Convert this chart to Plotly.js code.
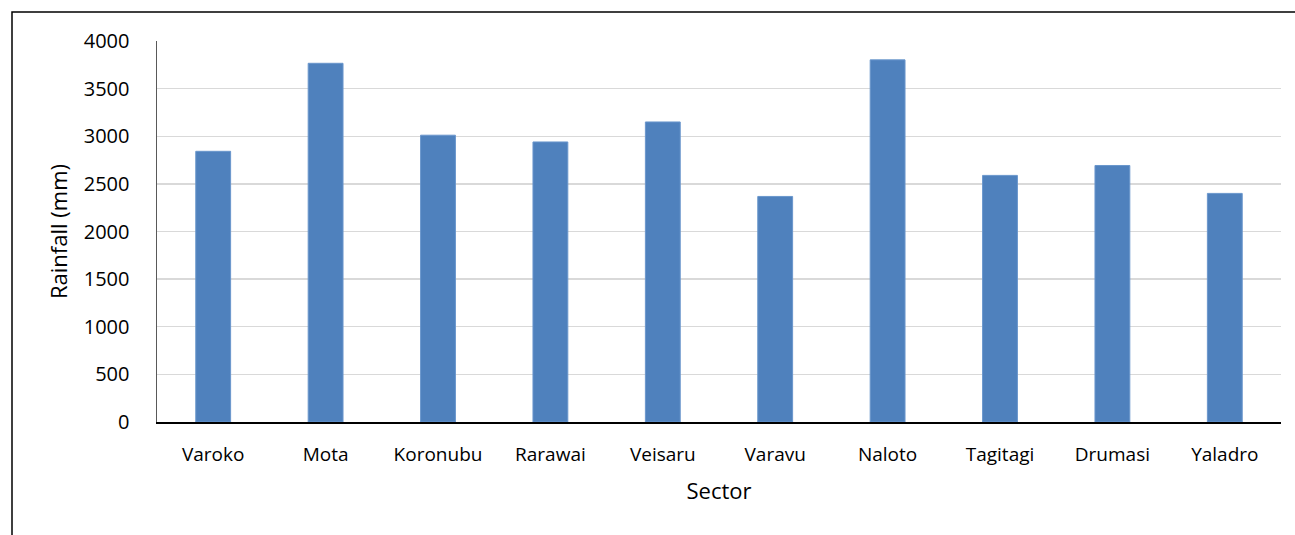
<!DOCTYPE html>
<html>
<head>
<meta charset="utf-8">
<script src="https://cdn.plot.ly/plotly-3.0.1.min.js"></script>
<style>
html,body{margin:0;padding:0;background:#fff;}
#chart{width:1295px;height:535px;}
</style>
</head>
<body>
<div id="chart"></div>
<script>
const sectors = ["Varoko","Mota","Koronubu","Rarawai","Veisaru","Varavu","Naloto","Tagitagi","Drumasi","Yaladro"];
const rainfall = [2842,3766,3011,2940,3150,2368,3802,2589,2693,2400];
const yTicks = [0,500,1000,1500,2000,2500,3000,3500,4000];

const fontFam = "Open Sans, Noto Sans, sans-serif";

const trace = {
  type: "bar",
  x: sectors,
  y: rainfall,
  marker: {color: "#4f81bd", line: {color: "#6a96cc", width: 1}},
  hoverinfo: "x+y"
};

const L = 157, R = 14, T = 41, B = 113;
const W = 1295 - L - R, H = 535 - T - B;

const layout = {
  width: 1295,
  height: 535,
  margin: {l: L, r: R, t: T, b: B},
  paper_bgcolor: "#ffffff",
  plot_bgcolor: "#ffffff",
  showlegend: false,
  bargap: 0.69,
  font: {family: fontFam, size: 20, color: "#000"},
  xaxis: {
    type: "category",
    showgrid: false,
    showline: true,
    linecolor: "#000",
    linewidth: 2,
    ticks: "",
    tickfont: {family: fontFam, size: 19, color: "#000"},
    ticklabelstandoff: 14,
    title: {text: "Sector", font: {family: fontFam, size: 22, color: "#000"}, standoff: 18},
    fixedrange: true
  },
  yaxis: {
    range: [0, 4000],
    tickvals: yTicks,
    ticktext: yTicks.map(String),
    showgrid: true,
    gridcolor: "#d9d9d9",
    gridwidth: 1.3,
    zeroline: false,
    showline: true,
    linecolor: "#595959",
    linewidth: 1.5,
    ticks: "",
    ticklabelstandoff: 22,
    tickfont: {family: fontFam, size: 20, color: "#000"},
    title: {text: "Rainfall (mm)", font: {family: fontFam, size: 22, color: "#000"}, standoff: 10},
    fixedrange: true
  },
  shapes: [{
    type: "rect",
    xref: "paper", yref: "paper",
    x0: (12 - L) / W, x1: (1300 - L) / W,
    y0: (422 - 560) / H, y1: (422 - 12) / H,
    line: {color: "#000", width: 1.5},
    fillcolor: "rgba(0,0,0,0)",
    layer: "below"
  }]
};

Plotly.newPlot("chart", [trace], layout, {displayModeBar: false, staticPlot: true});
</script>
</body>
</html>
